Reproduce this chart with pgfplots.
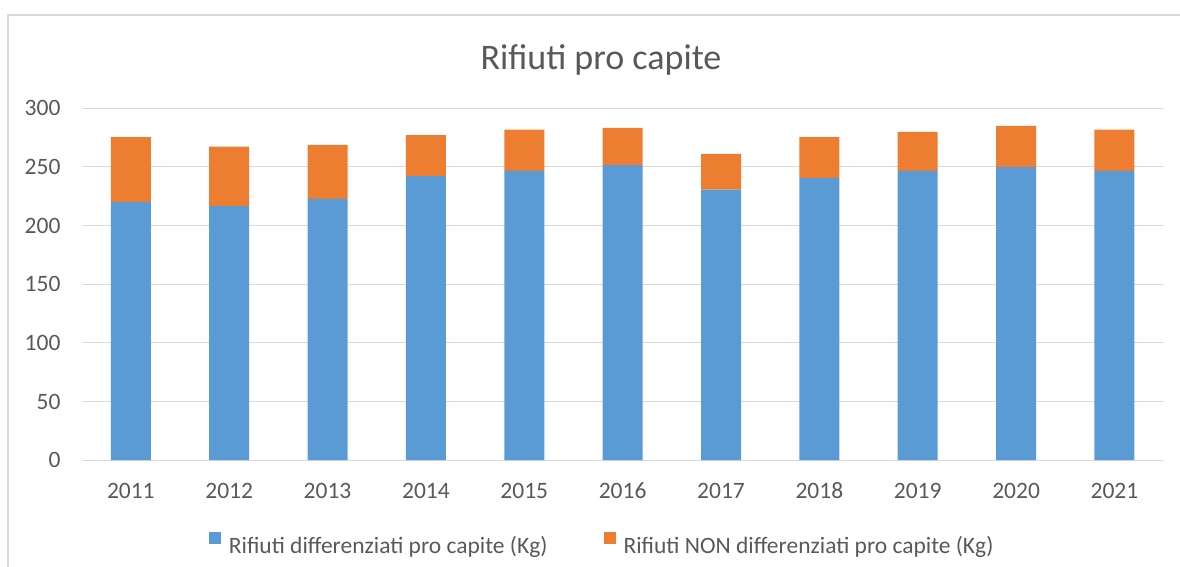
\documentclass[border=0pt]{standalone}
\usepackage{pgfplots}
\usepackage{pgfplotstable}
\pgfplotsset{compat=1.18}
\usepackage{fontspec}
\setmainfont{Carlito}
\definecolor{cblue}{HTML}{5B9BD5}
\definecolor{corange}{HTML}{ED7D31}
\definecolor{txt}{HTML}{595959}
\definecolor{gridc}{HTML}{D9D9D9}
\pgfplotstableread{
x dif non
0 220.0 55.3
1 216.6 50.7
2 222.8 46.0
3 242.1 34.9
4 246.6 35.2
5 251.5 31.7
6 230.7 30.4
7 240.4 34.9
8 246.6 33.2
9 249.8 35.1
10 246.6 35.2
}\data
\begin{document}
\begin{tikzpicture}[x=1pt,y=1pt]
\path[use as bounding box] (0,0) rectangle (1180,567);
\draw[gridc, line width=1.2pt] (8,0) -- (8,552) -- (1180,552);
\node[anchor=base, text=txt, font=\fontsize{36}{43}\selectfont, inner sep=0pt] at (601,497) {Rifiuti pro capite};
\begin{axis}[
  at={(83,91)}, anchor=south west,
  scale only axis, width=1082pt, height=352pt,
  ybar stacked, bar width=40pt,
  xmin=-0.5, xmax=10.5, ymin=0, ymax=300,
  ytick={0,50,...,300},
  xtick={0,...,10},
  xticklabels={2011,2012,2013,2014,2015,2016,2017,2018,2019,2020,2021},
  axis x line*=bottom, axis y line*=left,
  x axis line style={draw=gridc, line width=1.2pt, -},
  y axis line style={draw=none},
  ymajorgrids, grid style={draw=gridc, line width=1.2pt},
  major tick length=0pt,
  /pgf/number format/assume math mode=true,
  tick label style={text=txt, font=\fontsize{23.5}{28}\selectfont, inner sep=0pt},
  xticklabel style={anchor=base, yshift=-38pt},
  yticklabel style={anchor=east, xshift=-21pt},
  legend columns=2,
  legend style={at={(0.1174,-0.236)}, anchor=west, draw=none, fill=none, inner sep=0pt,
    font=\fontsize{23.5}{28}\selectfont, text=txt,
    nodes={inner sep=0pt},
    /tikz/every odd column/.append style={column sep=8pt},
    /tikz/every even column/.append style={column sep=56pt}},
  legend image code/.code={\fill[#1] (0pt,1.4pt) rectangle (12pt,13.4pt);},
]
\addplot[fill=cblue, draw=none] table[x=x, y=dif] {\data};
\addplot[fill=corange, draw=none] table[x=x, y=non] {\data};
\legend{Rifiuti differenziati pro capite (Kg), Rifiuti NON differenziati pro capite (Kg)}
\end{axis}
\end{tikzpicture}
\end{document}
